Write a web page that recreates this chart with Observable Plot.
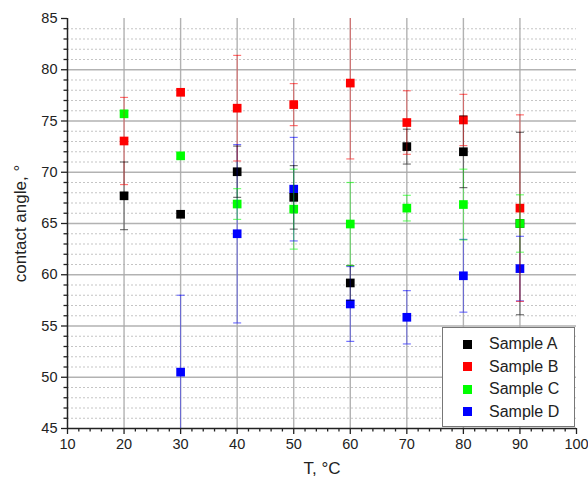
<!DOCTYPE html>
<html>
<head>
<meta charset="utf-8">
<script src="https://cdn.jsdelivr.net/npm/d3@7"></script>
<script src="https://cdn.jsdelivr.net/npm/@observablehq/plot@0.6"></script>
<style>
  body { margin: 0; background: #fff; }
  #wrap { position: relative; width: 588px; height: 494px; font-family: "Liberation Sans", Arial, sans-serif; }
  #legend { position: absolute; left: 442px; top: 327px; width: 133px; height: 100px; border: 1px solid #777; background: #fff; box-sizing: border-box; padding-top: 5px; }
  .row { display: flex; align-items: center; height: 22.5px; font-size: 16px; color: #222; }
  .sw { width: 9px; height: 9px; margin-left: 20px; margin-right: 17px; }
</style>
</head>
<body>
<div id="wrap"></div>
<script>
const temps = [20, 30, 40, 50, 60, 70, 80, 90];
const tempsD = [30, 40, 50, 60, 70, 80, 90];

const valuesA = [67.7, 65.9, 70.05, 67.55, 59.2, 72.5, 72.0, 65.0];
const errorsA = [3.3, 0.3, 2.5, 3.1, 1.7, 1.7, 3.5, 8.9];
const valuesB = [73.05, 77.8, 76.25, 76.6, 78.7, 74.85, 75.1, 66.5];
const errorsB = [4.25, 0.3, 5.15, 2.05, 7.4, 3.1, 2.5, 9.1];
const valuesC = [75.7, 71.6, 66.9, 66.4, 64.95, 66.5, 66.85, 65.0];
const errorsC = [0.3, 0.3, 1.5, 3.9, 4.05, 1.25, 3.45, 2.8];
const valuesD = [50.5, 64.0, 68.35, 57.15, 55.85, 59.9, 60.6];
const errorsD = [7.5, 8.7, 5.05, 3.65, 2.6, 3.55, 3.15];

const seriesNames = ["Sample A", "Sample B", "Sample C", "Sample D"];
const seriesColors = ["#000000", "#ff0000", "#00ff00", "#0000ff"];

const xMajor = [10, 20, 30, 40, 50, 60, 70, 80, 90, 100];
const xMinor = d3.range(12, 100, 2).filter(v => v % 10 !== 0);
const yMajor = [45, 50, 55, 60, 65, 70, 75, 80, 85];
const yMinor = d3.range(46, 85, 1).filter(v => v % 5 !== 0);

function series(name, xs, vs, es) {
  return xs.map((t, i) => ({s: name, t, v: vs[i], e: es[i]}));
}
const rows = [
  ...series("Sample D", tempsD, valuesD, errorsD),
  ...series("Sample A", temps, valuesA, errorsA),
  ...series("Sample B", temps, valuesB, errorsB),
  ...series("Sample C", temps, valuesC, errorsC)
];

const cap = {
  draw(context, size) {
    const w = Math.sqrt(size / Math.PI);
    context.moveTo(-w, 0);
    context.lineTo(w, 0);
  }
};

const chart = Plot.plot({
  width: 588,
  height: 494,
  marginLeft: 67,
  marginRight: 12,
  marginTop: 18,
  marginBottom: 66,
  x: {domain: [10, 100]},
  y: {domain: [45, 85]},
  color: {domain: seriesNames, range: seriesColors},
  style: {fontFamily: "Liberation Sans, Arial, sans-serif", fontSize: "14.5px", color: "#222", background: "#fff"},
  marks: [
    Plot.gridY(yMinor, {stroke: "#bbb", strokeOpacity: 0.85, strokeDasharray: "2,2"}),
    Plot.gridY(yMajor.filter(v => v > 45 && v < 85), {stroke: "#aaa", strokeOpacity: 0.9, strokeWidth: 1.4}),
    Plot.gridX(xMajor.filter(v => v > 10 && v < 100), {stroke: "#aaa", strokeOpacity: 0.9, strokeWidth: 1.4}),
    Plot.axisY(yMajor, {tickSize: 6, tickPadding: 4, label: null, stroke: "#222", strokeWidth: 1.3}),
    Plot.axisY(yMinor, {tickSize: 3.5, tickFormat: () => "", label: null, stroke: "#222", strokeWidth: 1.3}),
    Plot.axisY([], {label: "contact angle, °", labelAnchor: "center", labelArrow: "none", labelOffset: 54, fontSize: "17px"}),
    Plot.axisX(xMajor, {tickSize: 6, tickPadding: 4, label: null, stroke: "#222", strokeWidth: 1.3}),
    Plot.axisX(xMinor, {tickSize: 3.5, tickFormat: () => "", label: null, stroke: "#222", strokeWidth: 1.3}),
    Plot.axisX([], {label: "T, °C", labelAnchor: "center", labelArrow: "none", labelOffset: 45, fontSize: "17px"}),
    Plot.ruleX([10], {stroke: "#222", strokeWidth: 1.5}),
    Plot.ruleY([45], {stroke: "#222", strokeWidth: 1.5}),
    Plot.dot(rows, {x: "t", y: "v", symbol: "square", r: 4.9, fill: "s", stroke: "none"}),
    Plot.ruleX(rows, {x: "t", y1: d => d.v - d.e, y2: d => d.v + d.e, stroke: "s", strokeOpacity: 0.45, clip: true}),
    Plot.dot(rows, {x: "t", y: d => d.v + d.e, symbol: cap, r: 4, stroke: "s", strokeOpacity: 0.55, strokeWidth: 1.2, fill: "none", clip: true}),
    Plot.dot(rows, {x: "t", y: d => d.v - d.e, symbol: cap, r: 4, stroke: "s", strokeOpacity: 0.55, strokeWidth: 1.2, fill: "none", clip: true})
  ]
});

const wrap = document.getElementById("wrap");
wrap.appendChild(chart);

const legend = document.createElement("div");
legend.id = "legend";
seriesNames.forEach((name, i) => {
  const row = document.createElement("div");
  row.className = "row";
  const sw = document.createElement("div");
  sw.className = "sw";
  sw.style.background = seriesColors[i];
  const label = document.createElement("span");
  label.textContent = name;
  row.appendChild(sw);
  row.appendChild(label);
  legend.appendChild(row);
});
wrap.appendChild(legend);
</script>
</body>
</html>
